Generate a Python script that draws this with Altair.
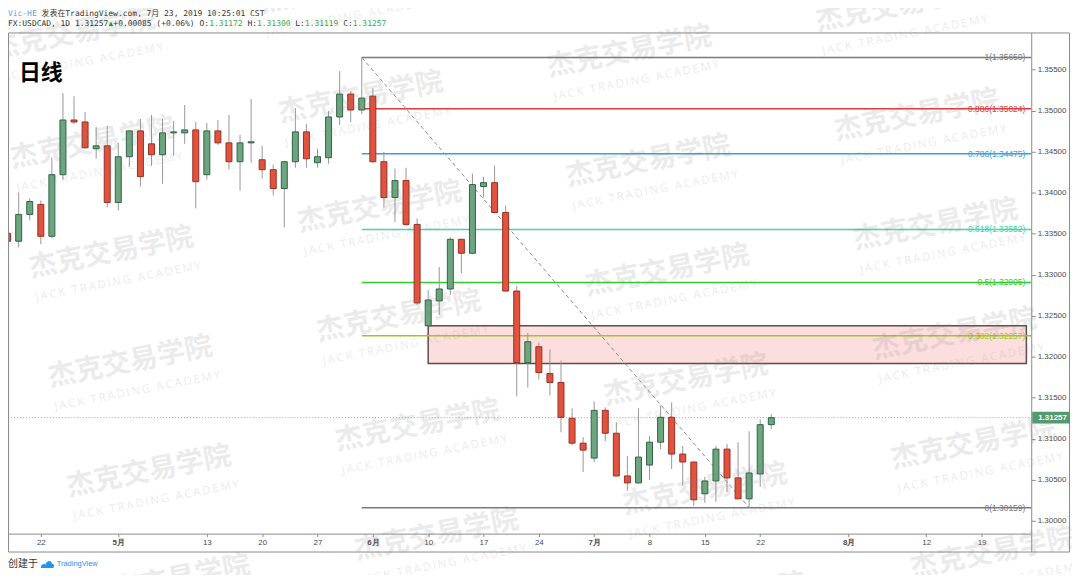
import altair as alt
import pandas as pd

# ---------------- data ----------------
bar_idx = list(range(-3, 67))  # trading-day index, 0 = 2019-04-22
opens = [1.33505, 1.33408, 1.33735, 1.33857, 1.33469, 1.34220, 1.34887, 1.34863, 1.34536, 1.34572,
         1.33881, 1.34439, 1.34754, 1.34596, 1.34463, 1.34730, 1.34730, 1.34766, 1.34220, 1.34754,
         1.34608, 1.34378, 1.34608, 1.34402, 1.34281, 1.34051, 1.34378, 1.34742, 1.34366, 1.34427,
         1.34924, 1.35203, 1.35009, 1.35178, 1.34378, 1.33941, 1.34148, 1.33614, 1.32377, 1.32680,
         1.32826, 1.33432, 1.33262, 1.34075, 1.34123, 1.33759, 1.32801, 1.31928, 1.32122, 1.31795,
         1.31686, 1.31249, 1.30946, 1.30764, 1.31346, 1.31067, 1.30546, 1.30461, 1.30679, 1.30958,
         1.31261, 1.30813, 1.30716, 1.30328, 1.30485, 1.30873, 1.30522, 1.30267, 1.30570, 1.31172]
highs = [1.33723, 1.34002, 1.33929, 1.33905, 1.34427, 1.35215, 1.35178, 1.34984, 1.34802, 1.34815,
         1.34608, 1.34760, 1.34899, 1.34948, 1.34899, 1.34875, 1.35069, 1.34863, 1.34851, 1.34887,
         1.34948, 1.34705, 1.35142, 1.34572, 1.34342, 1.34390, 1.35033, 1.34839, 1.34536, 1.34996,
         1.35482, 1.35239, 1.35650, 1.35275, 1.34499, 1.34293, 1.34305, 1.33687, 1.32814, 1.33093,
         1.33456, 1.33440, 1.34232, 1.34196, 1.34329, 1.33844, 1.32862, 1.32292, 1.32171, 1.32086,
         1.31953, 1.31370, 1.31019, 1.31455, 1.31383, 1.31201, 1.30788, 1.31370, 1.31031, 1.31407,
         1.31443, 1.30910, 1.30720, 1.30534, 1.30910, 1.30934, 1.30958, 1.31092, 1.31237, 1.31300]
lows = [1.32753, 1.33335, 1.33663, 1.33371, 1.33444, 1.34160, 1.34839, 1.34540, 1.34414, 1.33820,
        1.33784, 1.34317, 1.34075, 1.34329, 1.34111, 1.34451, 1.34596, 1.33808, 1.34160, 1.34584,
        1.34281, 1.34026, 1.34366, 1.34172, 1.33966, 1.33578, 1.34305, 1.34305, 1.34305, 1.34354,
        1.34827, 1.34863, 1.34960, 1.34366, 1.33820, 1.33638, 1.33590, 1.32632, 1.32370, 1.32510,
        1.32753, 1.33020, 1.33250, 1.33941, 1.33750, 1.32795, 1.31516, 1.31625, 1.31722, 1.31528,
        1.31079, 1.30922, 1.30594, 1.30716, 1.30970, 1.30540, 1.30364, 1.30455, 1.30497, 1.30873,
        1.30631, 1.30425, 1.30182, 1.30218, 1.30231, 1.30352, 1.30262, 1.30159, 1.30413, 1.31119]
closes = [1.33408, 1.33735, 1.33893, 1.33469, 1.34220, 1.34887, 1.34863, 1.34548, 1.34572, 1.33881,
          1.34439, 1.34754, 1.34196, 1.34463, 1.34730, 1.34742, 1.34766, 1.34135, 1.34754, 1.34608,
          1.34378, 1.34608, 1.34621, 1.34281, 1.34051, 1.34378, 1.34742, 1.34414, 1.34439, 1.34924,
          1.35203, 1.35009, 1.35154, 1.34378, 1.33941, 1.34148, 1.33614, 1.32656, 1.32692, 1.32826,
          1.33432, 1.33262, 1.34099, 1.34123, 1.33759, 1.32801, 1.31928, 1.32183, 1.31807, 1.31686,
          1.31261, 1.30946, 1.30861, 1.31346, 1.31067, 1.30546, 1.30461, 1.30776, 1.30958, 1.31261,
          1.30813, 1.30716, 1.30255, 1.30485, 1.30873, 1.30522, 1.30267, 1.30582, 1.31171, 1.31257]

tick_idx = [0, 7, 15, 20, 25, 30, 35, 40, 45, 50, 55, 60, 65, 73, 80, 85]
tick_lbl = ["22", "5月", "13", "20", "27", "6月", "10", "17", "24", "7月", "8", "15", "22", "8月", "12", "19"]
month_idx = [7, 30, 50, 73]
price_ticks = [1.300, 1.305, 1.310, 1.315, 1.320, 1.325, 1.330, 1.335, 1.340, 1.345, 1.350, 1.355]

fib_ratio = ["1", "0.886", "0.786", "0.618", "0.5", "0.382", "0"]
fib_price = [1.35650, 1.35024, 1.34475, 1.33552, 1.32905, 1.32257, 1.30159]
fib_color = ["#7a7a7a", "#e23b3b", "#3a9ee0", "#46d4a6", "#2fcf2f", "#a6c41c", "#7a7a7a"]
fib_start = [29]

zone_x = [35, 89.05]
zone_y = [1.32377, 1.31918]

trend_x = [29, 64]
trend_y = [1.35650, 1.30159]

last_price = [1.31257]

# ---------------- geometry ----------------
W, H = 1029, 504
X_DOM = [-2.965, 89.488]
Y_DOM = [1.298425, 1.359545]
xs = alt.Scale(domain=X_DOM, nice=False, zero=False, padding=0)
ys = alt.Scale(domain=Y_DOM, nice=False, zero=False, padding=0)
GRAY = "#8a8a8a"

label_expr = ("[" + ",".join(f"'{s}'" for s in tick_lbl) + "][indexof([" +
              ",".join(str(v) for v in tick_idx) + "], datum.value)]")
month_test = "indexof([" + ",".join(str(v) for v in month_idx) + "], datum.value) >= 0"
x_axis = alt.Axis(values=tick_idx, labelExpr=label_expr, orient="bottom", domain=False, grid=False,
                  ticks=True, tickSize=3, tickColor=GRAY, labelFontSize=8, labelColor="#4a4a4a",
                  labelFont="Liberation Sans", labelPadding=2, labelFlush=False, labelOverlap=False,
                  title=None,
                  labelFontWeight={"condition": {"test": month_test, "value": "bold"}, "value": "normal"})
y_axis = alt.Axis(values=price_ticks, format=".5f", orient="right", domain=False, grid=False, ticks=True,
                  tickSize=4, tickColor=GRAY, labelFontSize=8, labelColor="#4a4a4a",
                  labelFont="Liberation Sans", labelPadding=2, labelOverlap=False, labelFlush=False,
                  title=None)


def X(field):
    return alt.X(field, scale=xs, axis=x_axis, title=None)


def Y(field):
    return alt.Y(field, scale=ys, axis=y_axis, title=None)


def cx(page_x):
    return page_x - 8


def cy(page_y):
    return page_y - 31


def to_i(page_x):
    return (page_x - 41) / 11.13


def to_p(page_y):
    return Y_DOM[1] - (page_y - 31) * (Y_DOM[1] - Y_DOM[0]) / H


one = pd.DataFrame({"k": [0]})
layers = []

# candles first (axes come from here)
df = pd.DataFrame({"i": bar_idx, "o": opens, "h": highs, "l": lows, "c": closes})
df["dir"] = ["up" if c >= o else "down" for o, c in zip(opens, closes)]
candle_wick = alt.Chart(df).mark_rule(color="#979797", strokeWidth=1).encode(
    x=X("i:Q"), y=Y("l:Q"), y2="h:Q")
candle_body = alt.Chart(df).mark_bar(size=6, strokeWidth=1).encode(
    x=X("i:Q"), y=Y("o:Q"), y2="c:Q",
    fill=alt.Color("dir:N", scale=alt.Scale(domain=["up", "down"], range=["#6ca580", "#e0533e"]), legend=None),
    stroke=alt.Color("dir:N", scale=alt.Scale(domain=["up", "down"], range=["#2d6441", "#9b2c20"]), legend=None))

# zone
zone_df = pd.DataFrame({"x0": [zone_x[0]], "x1": [zone_x[1]], "y0": [zone_y[0]], "y1": [zone_y[1]]})
zone = alt.Chart(zone_df).mark_rect(fill="#fcdede", stroke="#5e4d4d", strokeWidth=1.5).encode(
    x=X("x0:Q"), x2="x1:Q", y=Y("y0:Q"), y2="y1:Q")

# fib lines + labels
fib_df = pd.DataFrame({"x0": fib_start * len(fib_price), "p": fib_price, "col": fib_color,
                       "lbl": [f"{r}({p:.5f})" for r, p in zip(fib_ratio, fib_price)]})
fib_lines = alt.Chart(fib_df).mark_rule(strokeWidth=1.5).encode(
    x=X("x0:Q"), x2=alt.value(W), y=Y("p:Q"), color=alt.Color("col:N", scale=None))
fib_text = alt.Chart(fib_df).mark_text(align="right", baseline="middle", fontSize=8.5,
                                       font="Liberation Sans").encode(
    x=alt.value(cx(1031)), y=Y("p:Q"), text="lbl:N", color=alt.Color("col:N", scale=None))

# current price dotted line
lp_df = pd.DataFrame({"p": last_price})
lp_line = alt.Chart(lp_df).mark_rule(color="#6dbb88", strokeDash=[1, 2], strokeWidth=1).encode(
    x=alt.value(0), x2=alt.value(W), y=Y("p:Q"))

# dashed trend line
tr_df = pd.DataFrame({"i": trend_x, "p": trend_y})
trend = alt.Chart(tr_df).mark_line(color="#8a8a8a", strokeDash=[4, 3], strokeWidth=1).encode(
    x=X("i:Q"), y=Y("p:Q"))

layers += [zone, fib_lines, fib_text, lp_line, trend, candle_wick, candle_body]

# watermarks
wm = []
for a in range(-1, 5):
    for b in range(-2, 7):
        PX = 93 + 270 * a + 19 * b
        PY = 143 - 46 * a + 110 * b
        if -100 < PX < 1180 and -40 < PY < 640:
            wm.append((PX, PY))
wm_cn = pd.DataFrame({"i": [to_i(px) for px, py in wm], "p": [to_p(py) for px, py in wm]})
wm_en = pd.DataFrame({"i": [to_i(px + 7) for px, py in wm], "p": [to_p(py + 29) for px, py in wm]})
en_text = "\u2009".join("JACK TRADING ACADEMY")
layers.append(alt.Chart(wm_cn).mark_text(text="杰克交易学院", angle=349, fontSize=28, font="Noto Sans CJK SC",
                                         fontWeight="bold", color="#7f7f7f", opacity=0.15).encode(
    x=X("i:Q"), y=Y("p:Q")))
layers.append(alt.Chart(wm_en).mark_text(text=en_text, angle=349, fontSize=11.5, font="Open Sans",
                                         color="#7f7f7f", opacity=0.15).encode(
    x=X("i:Q"), y=Y("p:Q")))

# frame
for (x1, y1, x2, y2) in [(8.5, 31.5, 1075.5, 31.5), (8.5, 553.5, 1075.5, 553.5), (8.5, 535.5, 1037.5, 535.5),
                         (8.5, 31.5, 8.5, 553.5), (1037.5, 31.5, 1037.5, 553.5), (1075.5, 31.5, 1075.5, 553.5)]:
    layers.append(alt.Chart(one).mark_rule(color=GRAY, strokeWidth=1).encode(
        x=alt.value(cx(x1)), x2=alt.value(cx(x2)), y=alt.value(cy(y1)), y2=alt.value(cy(y2))))

# current price label on the axis
layers.append(alt.Chart(lp_df).mark_rect(fill="#539b6e", yOffset=-6, y2Offset=6).encode(
    x=alt.value(cx(1038)), x2=alt.value(cx(1076)), y=Y("p:Q"), y2="p:Q"))
layers.append(alt.Chart(lp_df).mark_text(align="left", baseline="middle", fontSize=8, fontWeight="bold",
                                         font="Liberation Sans", color="white").encode(
    x=alt.value(cx(1044)), y=Y("p:Q"), text=alt.Text("p:Q", format=".5f")))


def text_layer(page_x, page_y, s, size=8, color="#333333", font="DejaVu Sans Mono",
               weight="normal", align="left"):
    return alt.Chart(pd.DataFrame({"t": [s]})).mark_text(
        align=align, baseline="middle", fontSize=size, font=font, fontWeight=weight, color=color).encode(
        x=alt.value(cx(page_x)), y=alt.value(cy(page_y)), text="t:N")


# header
CW = 0.602 * 8
layers.append(text_layer(8, 12.5, "Vic-HE", color="#5aa5da"))
layers.append(text_layer(8 + 7 * CW, 12.5, "发表在TradingView.com, 7月 23, 2019 10:25:01 CST",
                         font="DejaVu Sans Mono, Noto Sans CJK SC"))
GREEN = "#33a84a"
DARK = "#333333"
segs = [(0, "FX:USDCAD, 1D 1.31257", DARK), (21, "▲", "#1f9e2f"), (22, "+0.00085 (+0.06%) O:", DARK),
        (42, "1.31172", GREEN), (50, "H:", DARK), (52, "1.31300", GREEN), (60, "L:", DARK),
        (62, "1.31119", GREEN), (70, "C:", DARK), (72, "1.31257", GREEN)]
for col, s, colr in segs:
    layers.append(text_layer(8 + col * CW, 22.5, s, color=colr))

# title
layers.append(text_layer(19, 72, "日线", size=22, color="#000000", font="Noto Sans CJK SC", weight="bold"))

# footer
layers.append(text_layer(8, 566, "创建于", size=10, color="#333333", font="Noto Sans CJK SC"))
layers.append(alt.Chart(one).mark_point(
    shape="M-1,0.5 C-1,0 -0.6,-0.2 -0.3,0 C-0.2,-0.6 0.5,-0.7 0.6,-0.1 C1,-0.1 1,0.5 0.7,0.5 Z",
    size=196, filled=True, color="#2196f3", opacity=1).encode(x=alt.value(cx(48)), y=alt.value(cy(566))))
layers.append(text_layer(57, 566, "TradingView", size=7.5, color="#2196f3", font="Liberation Sans"))

chart = alt.layer(*layers).properties(
    width=W, height=H,
    autosize=alt.AutoSizeParams(type="none"),
    padding={"left": 0, "top": 23, "right": 41, "bottom": 40},
    background="white",
).configure_view(stroke=None)

chart.save("out.html", embed_options={"renderer": "svg", "actions": False})
